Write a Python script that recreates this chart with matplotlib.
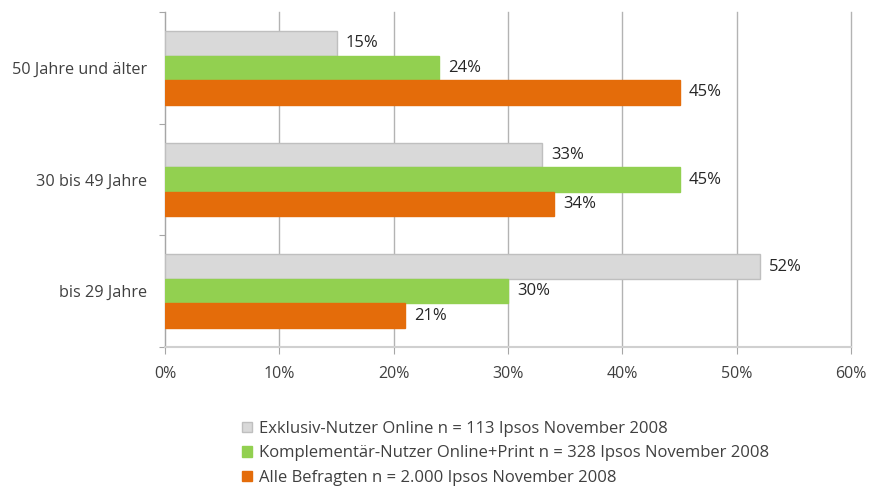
import numpy as np
import matplotlib
matplotlib.use("Agg")
import matplotlib.pyplot as plt

# Altersgruppen (von unten nach oben) und Anteile in %
categories = ["bis 29 Jahre", "30 bis 49 Jahre", "50 Jahre und älter"]
exklusiv = [52, 33, 15]
komplementaer = [30, 45, 24]
alle = [21, 34, 45]

series_names = [
    "Exklusiv-Nutzer Online n = 113 Ipsos November 2008",
    "Komplementär-Nutzer Online+Print n = 328 Ipsos November 2008",
    "Alle Befragten n = 2.000 Ipsos November 2008",
]
colors = ["#D9D9D9", "#92D050", "#E46C0A"]
edges = ["#BFBFBF", "#92D050", "#E46C0A"]

plt.rcParams["font.family"] = ["Open Sans", "DejaVu Sans"]

fig = plt.figure(figsize=(8.71, 4.91), dpi=100)
ax = fig.add_axes([165 / 871, 1 - 347 / 491, (851 - 165) / 871, (347 - 12) / 491])

y = np.arange(len(categories))
h = 0.22
offsets = [h, 0, -h]
handles = []
for vals, off, c, ec, name in zip([exklusiv, komplementaer, alle], offsets, colors, edges, series_names):
    bars = ax.barh(y + off, vals, height=h, color=c, edgecolor=ec, linewidth=1, label=name, zorder=3)
    handles.append(bars)
    for b, v in zip(bars, vals):
        ax.text(v + 0.8, b.get_y() + b.get_height() / 2, f"{v}%", va="center", ha="left",
                fontsize=12, color="#262626", zorder=4)

ax.set_xlim(0, 60)
ax.set_ylim(-0.5, 2.5)
ax.set_xticks(np.arange(0, 61, 10))
ax.set_xticklabels([f"{t}%" for t in range(0, 61, 10)])
ax.tick_params(axis="x", length=5, color="#A6A6A6", pad=9, labelsize=11.5, labelcolor="#404040")

ax.set_yticks([-0.5, 0.5, 1.5, 2.5])
ax.set_yticklabels([])
ax.set_yticks(y, minor=True)
ax.set_yticklabels(categories, minor=True)
ax.tick_params(axis="y", which="major", length=4, color="#A6A6A6")
ax.tick_params(axis="y", which="minor", length=0, pad=13, labelsize=11.7, labelcolor="#404040")

ax.grid(axis="x", color="#B3B3B3", linewidth=1, zorder=0)
for line in ax.get_xgridlines():
    line.set_clip_on(False)
for s in ["top", "right"]:
    ax.spines[s].set_visible(False)
ax.spines["left"].set_color("#A6A6A6")
ax.spines["bottom"].set_color("#D0D0D0")
ax.spines["bottom"].set_linewidth(1.5)

fig.legend(handles=handles, loc="upper left", bbox_to_anchor=(242 / 871, 1 - 421 / 491),
           frameon=False, fontsize=12, handlelength=0.6, handleheight=0.6, handletextpad=0.4,
           labelspacing=0.5, borderaxespad=0, borderpad=0, labelcolor="#404040")

fig.savefig("out.png", dpi=100)
